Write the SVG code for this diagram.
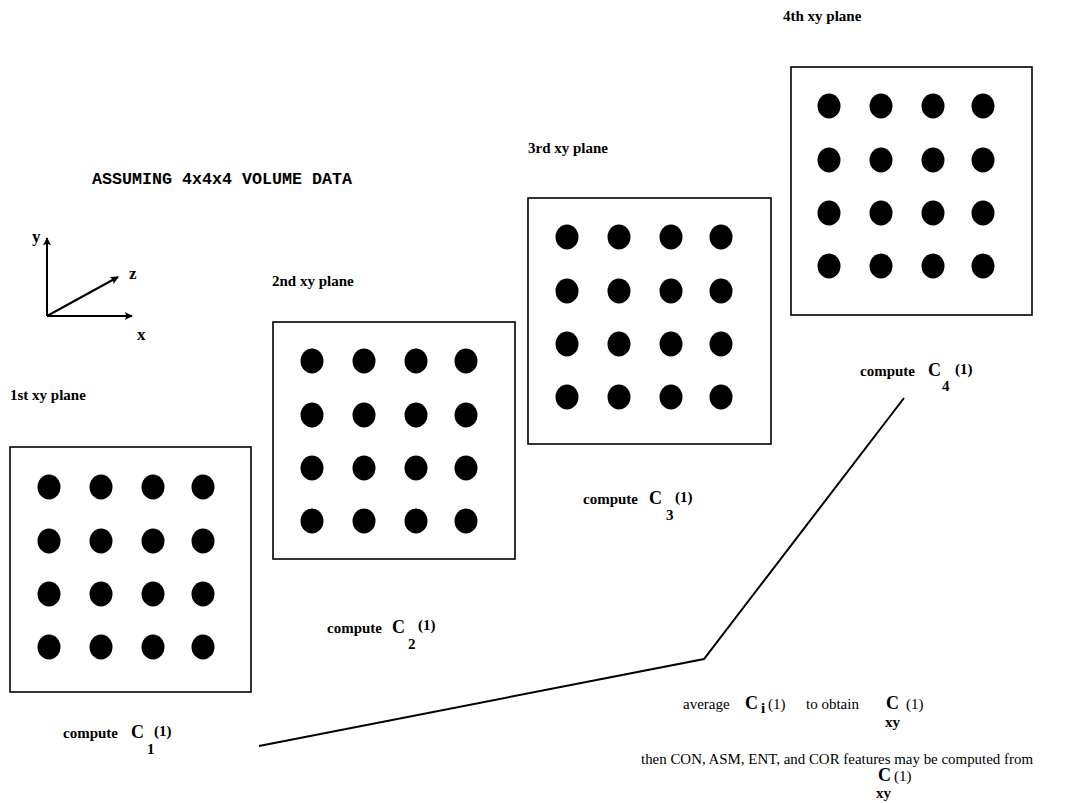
<svg xmlns="http://www.w3.org/2000/svg" width="1076" height="803" viewBox="0 0 1076 803">
  <defs>
    <marker id="arrow" viewBox="0 0 10 10" refX="9" refY="5" markerWidth="11" markerHeight="8" markerUnits="userSpaceOnUse" orient="auto">
      <path d="M0,0 L10,5 L0,10 L2,5 z" fill="#000"/>
    </marker>
    <!-- 4x4 grid of sample points, origin at the top-left point -->
    <g id="dots">
      <ellipse cx="0" cy="0" rx="11.5" ry="12.5"/>
      <ellipse cx="52" cy="0" rx="11.5" ry="12.5"/>
      <ellipse cx="104" cy="0" rx="11.5" ry="12.5"/>
      <ellipse cx="154" cy="0" rx="11.5" ry="12.5"/>
      <ellipse cx="0" cy="54" rx="11.5" ry="12.5"/>
      <ellipse cx="52" cy="54" rx="11.5" ry="12.5"/>
      <ellipse cx="104" cy="54" rx="11.5" ry="12.5"/>
      <ellipse cx="154" cy="54" rx="11.5" ry="12.5"/>
      <ellipse cx="0" cy="107" rx="11.5" ry="12.5"/>
      <ellipse cx="52" cy="107" rx="11.5" ry="12.5"/>
      <ellipse cx="104" cy="107" rx="11.5" ry="12.5"/>
      <ellipse cx="154" cy="107" rx="11.5" ry="12.5"/>
      <ellipse cx="0" cy="160" rx="11.5" ry="12.5"/>
      <ellipse cx="52" cy="160" rx="11.5" ry="12.5"/>
      <ellipse cx="104" cy="160" rx="11.5" ry="12.5"/>
      <ellipse cx="154" cy="160" rx="11.5" ry="12.5"/>
    </g>
  </defs>
  <style>
    .bg { fill: #ffffff; }
    .plane { fill: none; stroke: #000; stroke-width: 1.6; }
    .dot { fill: #000; }
    .lbl { font-family: "Liberation Serif", "Times New Roman", serif; font-size: 15px; font-weight: bold; fill: #000; }
    .txt { font-family: "Liberation Serif", "Times New Roman", serif; font-size: 15px; fill: #000; }
    .big { font-family: "Liberation Serif", "Times New Roman", serif; font-size: 18px; font-weight: bold; fill: #000; }
    .ax { font-family: "Liberation Serif", "Times New Roman", serif; font-size: 17px; font-weight: bold; fill: #000; }
    .mono { font-family: "Liberation Mono", "Courier New", monospace; font-size: 16.5px; font-weight: bold; fill: #000; }
    .axis { fill: none; stroke: #000; stroke-width: 2; }
    .conn { fill: none; stroke: #000; stroke-width: 2; }
  </style>
  <rect class="bg" x="0" y="0" width="1076" height="803"/>

  <!-- title -->
  <text class="mono" x="92" y="184" textLength="260" lengthAdjust="spacingAndGlyphs">ASSUMING 4x4x4 VOLUME DATA</text>

  <!-- coordinate axes -->
  <g id="axes">
    <line class="axis" x1="47" y1="316" x2="47" y2="238" marker-end="url(#arrow)"/>
    <line class="axis" x1="47" y1="316" x2="132" y2="316" marker-end="url(#arrow)"/>
    <line class="axis" x1="47" y1="316" x2="118" y2="277" marker-end="url(#arrow)"/>
    <text class="ax" x="32" y="242">y</text>
    <text class="ax" x="129" y="279">z</text>
    <text class="ax" x="137" y="340">x</text>
  </g>

  <!-- plane 1 -->
  <g id="plane1">
    <text class="lbl" x="10" y="400">1st xy plane</text>
    <rect class="plane" x="10" y="447" width="241" height="245"/>
    <use href="#dots" class="dot" x="49" y="487"/>
    <text class="lbl" x="63" y="738">compute</text>
    <text class="big" x="131" y="738">C</text>
    <text class="lbl" x="147" y="754">1</text>
    <text class="lbl" x="154" y="736">(1)</text>
  </g>

  <!-- plane 2 -->
  <g id="plane2">
    <text class="lbl" x="272" y="286">2nd xy plane</text>
    <rect class="plane" x="273" y="322" width="242" height="237"/>
    <use href="#dots" class="dot" x="312" y="361"/>
    <text class="lbl" x="327" y="633">compute</text>
    <text class="big" x="392" y="633">C</text>
    <text class="lbl" x="408" y="649">2</text>
    <text class="lbl" x="418" y="630">(1)</text>
  </g>

  <!-- plane 3 -->
  <g id="plane3">
    <text class="lbl" x="528" y="153">3rd xy plane</text>
    <rect class="plane" x="528" y="198" width="243" height="246"/>
    <use href="#dots" class="dot" x="567" y="237"/>
    <text class="lbl" x="583" y="504">compute</text>
    <text class="big" x="649" y="504">C</text>
    <text class="lbl" x="666" y="520">3</text>
    <text class="lbl" x="675" y="502">(1)</text>
  </g>

  <!-- plane 4 -->
  <g id="plane4">
    <text class="lbl" x="783" y="21">4th xy plane</text>
    <rect class="plane" x="791" y="67" width="241" height="248"/>
    <use href="#dots" class="dot" x="829" y="106"/>
    <text class="lbl" x="860" y="376">compute</text>
    <text class="big" x="928" y="376">C</text>
    <text class="lbl" x="942" y="391">4</text>
    <text class="lbl" x="955" y="374">(1)</text>
  </g>

  <!-- connector gathering the four planes -->
  <g id="connectors">
    <polyline class="conn" points="259,746 704,659 904,398"/>
  </g>

  <!-- averaging step -->
  <g id="average">
    <text class="txt" x="683" y="709">average</text>
    <text class="big" x="745" y="709">C</text>
    <text class="lbl" x="761" y="713" font-size="13">i</text>
    <text class="txt" x="768" y="709">(1)</text>
    <text class="txt" x="806" y="709">to obtain</text>
    <text class="big" x="886" y="709">C</text>
    <text class="txt" x="906" y="709">(1)</text>
    <text class="lbl" x="885" y="727">xy</text>
  </g>

  <g id="features">
    <text class="txt" x="641" y="764" textLength="392" lengthAdjust="spacingAndGlyphs">then CON, ASM, ENT, and COR features may be computed from</text>
    <text class="big" x="878" y="781">C</text>
    <text class="txt" x="894" y="781">(1)</text>
    <text class="lbl" x="876" y="798">xy</text>
  </g>
</svg>
